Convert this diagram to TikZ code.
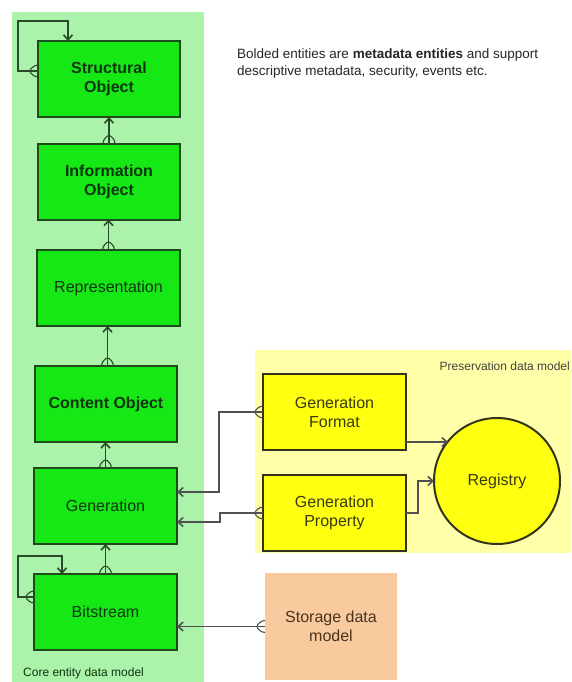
\documentclass[tikz,border=0pt]{standalone}
\usepackage{fontspec}
\setmainfont{Liberation Sans}
\usetikzlibrary{arrows.meta}
\definecolor{panelgreen}{HTML}{ABF3AB}
\definecolor{boxgreen}{HTML}{16E816}
\definecolor{gborder}{HTML}{1E4A1E}
\definecolor{gtext}{HTML}{0E360E}
\definecolor{gline}{HTML}{2A4A2A}
\definecolor{panelyellow}{HTML}{FFFFAA}
\definecolor{boxyellow}{HTML}{FFFF10}
\definecolor{yborder}{HTML}{33331A}
\definecolor{ytext}{HTML}{3A3A10}
\definecolor{yline}{HTML}{505050}
\definecolor{peach}{HTML}{F9CA9E}
\definecolor{ptext}{HTML}{4A3420}
\tikzset{
  gbox/.style={draw=gborder, line width=2pt, fill=boxgreen, minimum width=142pt, minimum height=76pt,
    inner sep=0pt, outer sep=0pt, text=gtext, align=center, font=\fontsize{16}{19}\selectfont},
  ybox/.style={draw=yborder, line width=2pt, fill=boxyellow, minimum width=143pt, minimum height=76pt,
    inner sep=0pt, outer sep=0pt, text=ytext, align=center, font=\fontsize{16}{19}\selectfont},
  conn/.style={line width=1.1pt},
  arr/.style={-{Straight Barb[length=5pt,width=9pt,line width=1.6pt]}},
  crow/.pic={\path[pic actions, line width=1.1pt] (0,6) .. controls (4,6) and (8,2) .. (8,0) .. controls (8,-2) and (4,-6) .. (0,-6);},
  small/.style={font=\fontsize{12}{14}\selectfont}
}
\begin{document}
\begin{tikzpicture}[x=1pt,y=-1pt]
\useasboundingbox (0,0) rectangle (571,682);
\fill[white] (0,0) rectangle (571,682);
% panels
\fill[panelgreen] (12,12) rectangle (204,682);
\fill[panelyellow] (255,350) rectangle (571,553);
% note
\node[anchor=base west, align=left, inner sep=0pt, text=black!85, font=\fontsize{13.5}{17}\selectfont] (note) at (237,76)
  {Bolded entities are \textbf{metadata entities} and support\\descriptive metadata, security, events etc.};
\node[small, anchor=base west, inner sep=0pt, text=gtext] (corelbl) at (23,676) {Core entity data model};
\node[small, anchor=base east, text=black!75, inner sep=0pt] (preslbl) at (570,370) {Preservation data model};
% green boxes
\node[gbox] (struct)  at (109,79)    {\textbf{Structural}\\\textbf{Object}};
\node[gbox] (info)    at (109,181.5) {\textbf{Information}\\\textbf{Object}};
\node[gbox, minimum width=143pt] (rep) at (108.5,288) {Representation};
\node[gbox] (content) at (106,404)   {\textbf{Content Object}};
\node[gbox, minimum width=143pt] (gen) at (105.5,506) {Generation};
\node[gbox, minimum width=143pt] (bit) at (105.5,612) {Bitstream};
% yellow boxes
\node[ybox] (fmt)  at (334.5,412) {Generation\\Format};
\node[ybox] (prop) at (334.5,513) {Generation\\Property};
\node[draw=yborder, line width=2pt, fill=boxyellow, circle, minimum size=126pt, inner sep=0pt, outer sep=0pt,
  text=ytext, font=\fontsize{16}{19}\selectfont] (reg) at (497,481) {Registry};
% storage
\node[fill=peach, minimum width=132pt, minimum height=107pt, inner sep=0pt, outer sep=0pt, text=ptext,
  align=center, font=\fontsize{16}{19}\selectfont] (store) at (331,626.5) {Storage data\\model};
% vertical connectors
\draw[conn, gline, arr] (info.north) -- (info.north |- struct.south);
\pic[draw=gline, rotate=90] at (info.north) {crow};
\draw[conn, gline, arr] (rep.north) -- (rep.north |- info.south);
\pic[draw=gline, rotate=90] at (rep.north) {crow};
\draw[conn, gline, arr] (content.north) ++(1.5,0) coordinate (cn) -- (cn |- rep.south);
\pic[draw=gline, rotate=90] at (cn) {crow};
\draw[conn, gline, arr] (gen.north) -- (gen.north |- content.south);
\pic[draw=gline, rotate=90] at (gen.north) {crow};
\draw[conn, gline, arr] (bit.north) -- (bit.north |- gen.south);
\pic[draw=gline, rotate=90] at (bit.north) {crow};
% self loops
\draw[conn, gline, arr] ([yshift=8pt]struct.west) -- ++(-20,0) |- ([xshift=-41pt,yshift=20pt]struct.north) -- ([xshift=-41pt]struct.north);
\pic[draw=gline, rotate=180] at ([yshift=8pt]struct.west) {crow};
\draw[conn, gline, arr] ([yshift=15pt]bit.west) -- ++(-16,0) |- ([xshift=-43.5pt,yshift=18pt]bit.north) -- ([xshift=-43.5pt]bit.north);
\pic[draw=gline, rotate=180] at ([yshift=15pt]bit.west) {crow};
% preservation connectors
\draw[conn, yline, arr] (fmt.west) -- ++(-44,0) |- ([yshift=14pt]gen.east);
\pic[draw=yline, rotate=180] at (fmt.west) {crow};
\draw[conn, yline, arr] (prop.west) -- ++(-43,0) |- ([yshift=-16pt]gen.east);
\pic[draw=yline, rotate=180] at (prop.west) {crow};
\draw[conn, yline, arr] ([yshift=-30pt]fmt.east) coordinate (fa) -- (reg.141.8 |- fa);
\draw[conn, yline, arr] (prop.east) -- ++(12,0) |- (reg.west);
% storage connector
\draw[conn, yline, arr] (store.west) -- (store.west -| bit.east);
\pic[draw=yline, rotate=180] at (store.west) {crow};
\end{tikzpicture}
\end{document}
